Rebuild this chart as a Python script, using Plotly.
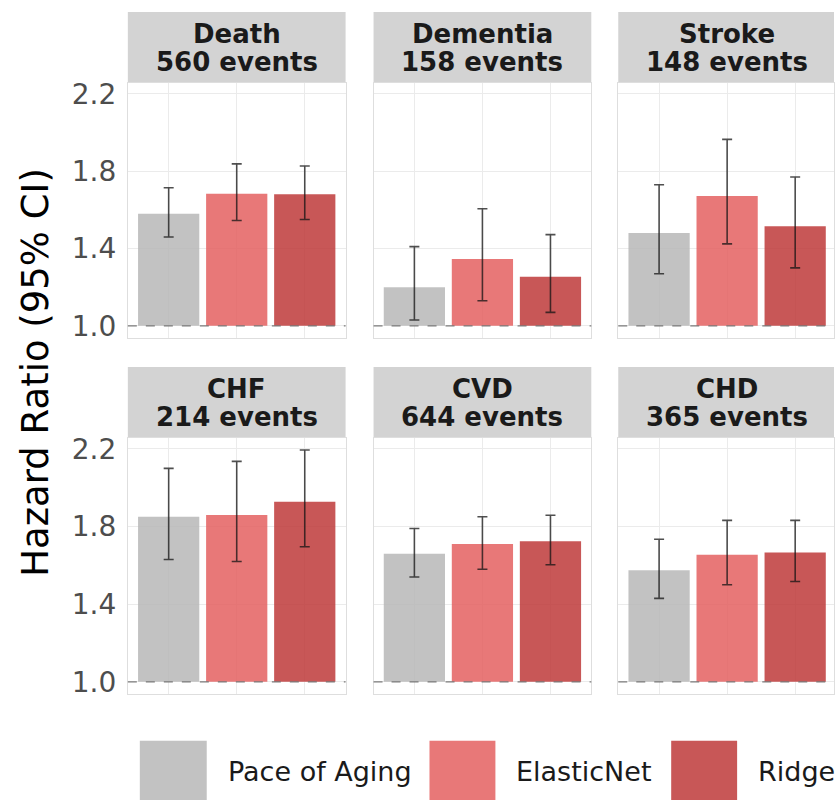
import plotly.graph_objects as go

# Outcomes, event counts and model names
outcomes = ["Death", "Dementia", "Stroke", "CHF", "CVD", "CHD"]
events = [560, 158, 148, 214, 644, 365]
models = ["Pace of Aging", "ElasticNet", "Ridge"]

# Hazard ratios with 95% confidence limits, one list per model (same order as outcomes)
hr_pace = [1.58, 1.20, 1.48, 1.85, 1.66, 1.575]
lo_pace = [1.46, 1.03, 1.27, 1.63, 1.54, 1.43]
hi_pace = [1.715, 1.41, 1.73, 2.10, 1.79, 1.735]

hr_enet = [1.684, 1.346, 1.672, 1.86, 1.71, 1.655]
lo_enet = [1.545, 1.13, 1.424, 1.62, 1.58, 1.50]
hi_enet = [1.838, 1.606, 1.965, 2.136, 1.851, 1.832]

hr_ridge = [1.681, 1.254, 1.516, 1.928, 1.724, 1.667]
lo_ridge = [1.55, 1.07, 1.30, 1.696, 1.603, 1.517]
hi_ridge = [1.827, 1.472, 1.77, 2.195, 1.858, 1.832]

y_ticks = [1.0, 1.4, 1.8, 2.2]

series = [
    (hr_pace, lo_pace, hi_pace),
    (hr_enet, lo_enet, hi_enet),
    (hr_ridge, lo_ridge, hi_ridge),
]
colors = ["rgba(183,183,183,0.85)", "rgba(228,96,96,0.85)", "rgba(190,58,58,0.85)"]

W, H = 835, 804
FONT = "DejaVu Sans"

# panel geometry in pixels
col_x = [(128, 346), (374, 592), (619, 835)]
row_y = [(79, 337), (438, 697)]
strip_h = 72
px_per_unit = 218 / 3.2

fig = go.Figure()
shapes = []
annotations = []

for i, name in enumerate(outcomes):
    r, c = divmod(i, 3)
    ax = "" if i == 0 else str(i + 1)
    xa, ya = "x" + ax, "y" + ax
    for m, (hr, lo, hi) in enumerate(series):
        fig.add_trace(go.Bar(
            x=[m + 1], y=[hr[i] - 1.0], base=[1.0],
            width=0.9, marker=dict(color=colors[m], line=dict(width=0)),
            error_y=dict(type="data", symmetric=False,
                         array=[hi[i] - hr[i]], arrayminus=[hr[i] - lo[i]],
                         color="rgba(20,20,20,0.75)", thickness=1.6, width=5),
            name=models[m], showlegend=False, xaxis=xa, yaxis=ya,
        ))

    x0, x1 = col_x[c]
    y0, y1 = row_y[r]
    xr_max = 0.4 + (x1 - x0) / px_per_unit
    fig.update_layout(**{
        "xaxis" + ax: dict(domain=[x0 / W, x1 / W], range=[0.4, xr_max],
                           anchor=ya, showticklabels=False, ticks="",
                           tickvals=[1, 2, 3], showgrid=True, gridcolor="#EBEBEB",
                           gridwidth=1, zeroline=False, showline=True, mirror=True,
                           linecolor="#DEDEDE", linewidth=1),
        "yaxis" + ax: dict(domain=[1 - y1 / H, 1 - y0 / H], range=[0.936, 2.256],
                           anchor=xa, tickvals=y_ticks, ticktext=[f"{v:.1f}" for v in y_ticks],
                           showticklabels=(c == 0), ticks="", ticklabelstandoff=5,
                           tickfont=dict(family=FONT, size=28, color="#4D4D4D"),
                           showgrid=True, gridcolor="#EBEBEB", gridwidth=1,
                           zeroline=False, showline=True, mirror=True,
                           linecolor="#DEDEDE", linewidth=1),
    })

    # reference line at HR = 1
    shapes.append(dict(type="line", xref=xa + " domain", yref=ya, x0=0, x1=1, y0=1, y1=1,
                       line=dict(color="rgba(110,110,110,0.9)", width=1.3, dash="dash"),
                       layer="above"))

    # facet strip
    shapes.append(dict(type="rect", xref="paper", yref="paper",
                       x0=x0 / W, x1=(x0 + 218) / W if c < 2 else 1.0,
                       y0=1 - y0 / H, y1=1 - (y0 - strip_h) / H,
                       fillcolor="#D3D3D3", line=dict(width=0), layer="below"))
    cx = (x0 + 109) / W
    annotations.append(dict(text=f"<b>{name}</b>", x=cx, y=1 - (y0 - 50) / H,
                            xref="paper", yref="paper", showarrow=False,
                            xanchor="center", yanchor="middle",
                            font=dict(family=FONT, size=26, color="#1A1A1A")))
    annotations.append(dict(text=f"<b>{events[i]} events</b>", x=cx, y=1 - (y0 - 21) / H,
                            xref="paper", yref="paper", showarrow=False,
                            xanchor="center", yanchor="middle",
                            font=dict(family=FONT, size=26, color="#1A1A1A")))

# y-axis title
annotations.append(dict(text="Hazard Ratio (95% CI)", x=36 / W, y=1 - 371 / H,
                        xref="paper", yref="paper", showarrow=False, textangle=-90,
                        xanchor="center", yanchor="middle",
                        font=dict(family=FONT, size=37, color="#000000")))

# legend keys and labels
legend_keys = [(140, 207), (430, 496), (672, 738)]
for m, (kx0, kx1) in enumerate(legend_keys):
    shapes.append(dict(type="rect", xref="paper", yref="paper",
                       x0=kx0 / W, x1=kx1 / W, y0=0, y1=1 - 744 / H,
                       fillcolor=colors[m], line=dict(width=0)))
    annotations.append(dict(text=models[m], x=(kx1 + 19) / W, y=1 - 775 / H,
                            xref="paper", yref="paper", showarrow=False,
                            xanchor="left", yanchor="middle",
                            font=dict(family=FONT, size=27, color="#1A1A1A")))

fig.update_layout(
    width=W, height=H, margin=dict(l=0, r=0, t=0, b=0),
    paper_bgcolor="white", plot_bgcolor="white",
    barmode="overlay", showlegend=False,
    shapes=shapes, annotations=annotations,
    font=dict(family=FONT),
)

fig.write_html("out.html")
